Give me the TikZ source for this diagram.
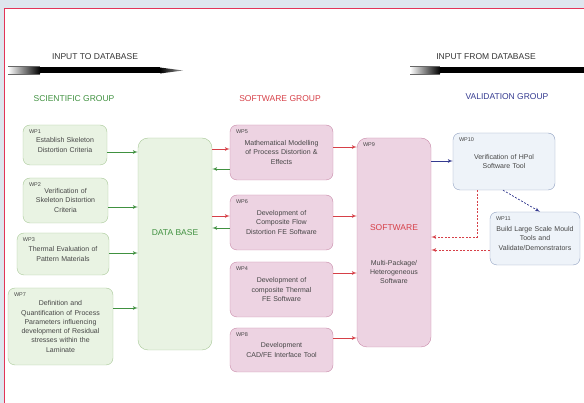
\documentclass[tikz,border=0pt]{standalone}
\usepackage{fontspec}
\setmainfont{Liberation Sans}
\usetikzlibrary{shapes,arrows}
\definecolor{pagegray}{RGB}{222,230,238}
\definecolor{framered}{RGB}{226,52,88}
\definecolor{scifill}{RGB}{233,243,227}
\definecolor{sciedge}{RGB}{168,200,152}
\definecolor{scigreen}{RGB}{64,145,64}
\definecolor{softfill}{RGB}{237,211,226}
\definecolor{softedge}{RGB}{200,138,168}
\definecolor{softred}{RGB}{214,64,72}
\definecolor{valfill}{RGB}{238,243,249}
\definecolor{valedge}{RGB}{143,159,192}
\definecolor{valblue}{RGB}{52,58,144}
\definecolor{boxtext}{RGB}{70,70,70}
\tikzstyle{sciblock} = [rectangle, draw=sciedge, fill=scifill, rounded corners=7pt, text centered,
text=boxtext, font=\fontsize{7}{9.3}\selectfont, inner sep=3pt]
\tikzstyle{softblock} = [rectangle, draw=softedge, fill=softfill, rounded corners=7pt, text centered,
text=boxtext, font=\fontsize{7}{9.3}\selectfont, inner sep=3pt]
\tikzstyle{valblock} = [rectangle, draw=valedge, fill=valfill, rounded corners=7pt, text centered,
text=boxtext, font=\fontsize{7}{9.3}\selectfont, inner sep=3pt]
\tikzstyle{wptag} = [anchor=north west, font=\fontsize{5.5}{6}\selectfont, text=boxtext, inner sep=0pt,
xshift=6pt, yshift=-5pt]
\tikzstyle{heading} = [font=\fontsize{8.5}{10}\selectfont, text=black!80]
\tikzstyle{grouptitle} = [font=\fontsize{8.5}{10}\selectfont]
\tikzstyle{sciline} = [draw=scigreen, line width=0.7pt, -latex']
\tikzstyle{softline} = [draw=softred, line width=0.7pt, -latex']
\tikzstyle{valline} = [draw=valblue, line width=0.7pt, -latex']
\tikzstyle{backline} = [draw=softred, line width=0.7pt, dash pattern=on 2pt off 1.5pt, -latex']
\begin{document}
\begin{tikzpicture}[x=1pt, y=-1pt]
			\useasboundingbox (0,0) rectangle (584,403);
			% page edge
			\fill [pagegray] (0,0) rectangle (584,8);
			\fill [pagegray] (0,0) rectangle (4,403);
			\draw [framered, line width=1.5pt] (4.5,403) -- (4.5,8.5) -- (584,8.5);
			% headings and their arrows
			\node [heading] (intodb) at (95,57) {INPUT TO DATABASE};
			\node [heading] (fromdb) at (486,57) {INPUT FROM DATABASE};
			\draw [black!60, line width=0.4pt] (8,66.5) -- (40,66.5) (8,74.5) -- (40,74.5);
			\shade [left color=white, right color=black] (8,67.5) rectangle (40,73.5);
			\fill [black] (40,67.5) -- (160,67.5) -- (160,73.5) -- (40,73.5) -- cycle;
			\shade [left color=black, right color=black!40] (160,67.5) -- (183,70.5) -- (160,73.5) -- cycle;
			\draw [black!60, line width=0.4pt] (410,66.5) -- (440,66.5) (410,74.5) -- (440,74.5);
			\shade [left color=white, right color=black] (410,67.5) rectangle (440,73.5);
			\fill [black] (440,67.5) rectangle (584,73.5);
			\node [grouptitle, text=scigreen] (scigroup) at (74,99) {SCIENTIFIC GROUP};
			\node [grouptitle, text=softred] (softgroup) at (280,99) {SOFTWARE GROUP};
			\node [grouptitle, text=valblue] (valgroup) at (507,97) {VALIDATION GROUP};
			% scientific group
			\node [sciblock, text width=78pt, minimum height=40pt, label={[wptag]north west:WP1}] (wp1) at (65,145)
			{Establish Skeleton\\ Distortion Criteria};
			\node [sciblock, text width=79pt, minimum height=45pt, label={[wptag]north west:WP2}] (wp2) at (65.5,200.5)
			{Verification of\\ Skeleton Distortion\\ Criteria};
			\node [sciblock, text width=86pt, minimum height=42pt, label={[wptag]north west:WP3}] (wp3) at (63,254)
			{Thermal Evaluation of\\ Pattern Materials};
			\node [sciblock, text width=99pt, minimum height=77pt, label={[wptag]north west:WP7}] (wp7) at (60.5,326.5)
			{Definition and\\ Quantification of Process\\ Parameters influencing\\ development of Residual\\ stresses within the\\ Laminate};
			\node [sciblock, rounded corners=10pt, text width=68pt, minimum height=212pt] (db) at (175,244) {};
			\node [grouptitle, text=scigreen] (dbtitle) at ([yshift=11pt]db.center) {DATA BASE};
			% software group
			\node [softblock, text width=97pt, minimum height=55pt, label={[wptag]north west:WP5}] (wp5) at (281.5,152.5)
			{Mathematical Modelling\\ of Process Distortion \&\\ Effects};
			\node [softblock, text width=97pt, minimum height=55pt, label={[wptag]north west:WP6}] (wp6) at (281.5,222.5)
			{Development of\\ Composite Flow\\ Distortion FE Software};
			\node [softblock, text width=97pt, minimum height=55pt, label={[wptag]north west:WP4}] (wp4) at (281.5,289.5)
			{Development of\\ composite Thermal\\ FE Software};
			\node [softblock, text width=97pt, minimum height=44pt, label={[wptag]north west:WP8}] (wp8) at (281.5,350)
			{Development\\ CAD/FE Interface Tool};
			\node [softblock, rounded corners=10pt, text width=68pt, minimum height=209pt, label={[wptag]north west:WP9}] (sw) at (394,242.5) {};
			\node [grouptitle, text=softred] (swtitle) at ([yshift=14.5pt]sw.center) {SOFTWARE};
			\node [font=\fontsize{7}{9.3}\selectfont, text=boxtext, align=center] (swtext) at ([yshift=-29.5pt]sw.center)
			{Multi-Package/\\ Heterogeneous\\ Software};
			% validation group
			\node [valblock, text width=96pt, minimum height=57pt, label={[wptag]north west:WP10}] (wp10) at (504,161.5)
			{Verification of HPol\\ Software Tool};
			\node [valblock, text width=84pt, minimum height=53pt, label={[wptag]north west:WP11}] (wp11) at (535,238.5)
			{Build Large Scale Mould\\ Tools and\\ Validate/Demonstrators};
			% connectors
			\path [sciline] (wp1.east |- 0,152) -- (db.west |- 0,152);
			\path [sciline] (wp2.east |- 0,207) -- (db.west |- 0,207);
			\path [sciline] (wp3.east |- 0,253) -- (db.west |- 0,253);
			\path [sciline] (wp7.east |- 0,308) -- (db.west |- 0,308);
			\path [softline] (db.east |- 0,149) -- (wp5.west |- 0,149);
			\path [sciline] (wp5.west |- 0,169) -- (db.east |- 0,169);
			\path [softline] (db.east |- 0,216) -- (wp6.west |- 0,216);
			\path [sciline] (wp6.west |- 0,228) -- (db.east |- 0,228);
			\path [softline] (wp5.east |- 0,147) -- (sw.west |- 0,147);
			\path [softline] (wp6.east |- 0,216) -- (sw.west |- 0,216);
			\path [softline] (wp4.east |- 0,273) -- (sw.west |- 0,273);
			\path [softline] (wp8.east |- 0,338) -- (sw.west |- 0,338);
			\path [valline] (sw.east |- 0,161) -- (wp10.west |- 0,161);
			\path [valline, dash pattern=on 2pt off 1.5pt] (wp10.south -| 503,0) -- (wp11.north -| 540,0);
			\path [backline] (wp10.south -| 477,0) |- (sw.east |- 0,237);
			\path [backline] (wp11.west |- 0,250) -- (sw.east |- 0,250);
		\end{tikzpicture}
\end{document}
